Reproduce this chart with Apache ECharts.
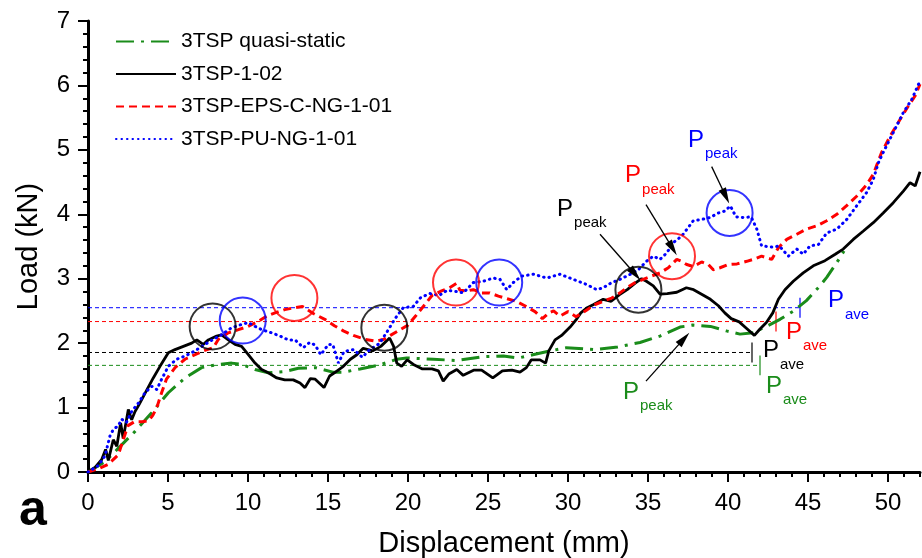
<!DOCTYPE html>
<html>
<head>
<meta charset="utf-8">
<script src="https://cdn.jsdelivr.net/npm/echarts@6/dist/echarts.min.js"></script>
<style>
  html, body { margin: 0; padding: 0; background: #fff; }
  #chart { width: 922px; height: 558px; }
</style>
</head>
<body>
<div id="chart"></div>
<script>
// ---- data (displacement mm, load kN) ----
const qsData = [[0,0],[1.06,0.16],[1.9,0.37],[2.94,0.63],[3.98,0.92],[5.02,1.23],[6.06,1.46],[7.1,1.62],[8.15,1.67],[8.98,1.69],[9.6,1.67],[10.44,1.59],[11.27,1.54],[12.3,1.56],[13.15,1.61],[14.2,1.62],[15.3,1.55],[15.96,1.55],[17.0,1.6],[18.2,1.66],[19.3,1.75],[19.92,1.77],[21.58,1.75],[23.04,1.73],[24.7,1.79],[25.96,1.8],[26.9,1.77],[27.8,1.82],[28.9,1.88],[29.9,1.93],[31.6,1.9],[33.1,1.94],[34.5,2.01],[35.75,2.11],[37.0,2.25],[37.8,2.28],[38.9,2.26],[39.9,2.19],[40.75,2.14],[41.58,2.16],[42.4,2.26],[43.25,2.37],[44.1,2.5],[44.9,2.66],[45.75,2.89],[46.17,3.02],[46.8,3.25],[47.25,3.43]];

const s102Data = [[0,0],[0.44,0.07],[0.85,0.19],[1.1,0.35],[1.27,0.18],[1.58,0.5],[1.8,0.4],[2.04,0.76],[2.2,0.52],[2.52,0.97],[2.73,0.81],[2.94,0.94],[3.2,1.05],[3.67,1.27],[4.08,1.46],[4.5,1.64],[5.02,1.85],[5.44,1.9],[5.96,1.95],[6.48,2.0],[6.8,2.05],[7.2,1.98],[7.52,2.05],[8.04,2.11],[8.35,2.13],[8.77,2.05],[9.19,1.98],[9.6,1.95],[10.02,1.82],[10.44,1.69],[10.85,1.59],[11.27,1.54],[11.8,1.46],[12.3,1.43],[12.83,1.43],[13.25,1.38],[13.56,1.31],[13.9,1.45],[14.2,1.44],[14.75,1.31],[15.1,1.49],[15.4,1.54],[15.96,1.64],[16.4,1.75],[16.8,1.82],[17.2,1.92],[17.8,1.88],[18.3,1.95],[18.85,2.08],[19.1,1.95],[19.3,1.69],[19.6,1.64],[19.95,1.74],[20.4,1.66],[20.9,1.6],[21.5,1.6],[21.9,1.57],[22.2,1.41],[22.55,1.52],[23.05,1.59],[23.45,1.5],[24.1,1.58],[24.6,1.58],[25.3,1.46],[25.9,1.57],[26.5,1.58],[27.0,1.55],[27.4,1.62],[27.7,1.74],[28.25,1.74],[28.6,1.69],[28.8,1.88],[29.19,2.05],[29.6,2.12],[30.13,2.25],[30.5,2.36],[30.8,2.47],[31.2,2.55],[31.6,2.6],[32.2,2.68],[32.7,2.65],[33.2,2.75],[33.7,2.83],[34.2,2.93],[34.6,3.0],[34.9,2.96],[35.33,2.89],[35.75,2.76],[36.2,2.77],[36.8,2.79],[37.4,2.86],[37.85,2.83],[38.35,2.76],[38.9,2.68],[39.4,2.58],[39.8,2.47],[40.2,2.38],[40.7,2.33],[41.2,2.22],[41.65,2.12],[42.0,2.22],[42.4,2.32],[42.8,2.47],[43.15,2.68],[43.56,2.83],[44.08,2.96],[44.7,3.09],[45.33,3.2],[46.06,3.28],[46.7,3.38],[47.2,3.46],[47.83,3.61],[48.46,3.74],[49.08,3.87],[49.7,4.02],[50.33,4.18],[50.96,4.36],[51.38,4.49],[51.7,4.44],[52,4.66]];

const epsData = [[0,0],[0.65,0.05],[1.27,0.12],[1.9,0.27],[2.2,0.5],[2.5,0.72],[2.9,0.78],[3.4,0.78],[3.8,0.8],[4.05,0.88],[4.3,1.0],[4.6,1.23],[4.9,1.44],[5.44,1.62],[6.06,1.75],[6.69,1.82],[7.2,1.88],[7.83,1.93],[8.15,2.06],[8.77,2.16],[9.4,2.21],[10.0,2.26],[10.65,2.34],[11.17,2.42],[11.69,2.47],[12.3,2.52],[12.9,2.55],[13.4,2.57],[14.08,2.46],[14.8,2.37],[15.4,2.27],[15.96,2.19],[16.58,2.12],[17.3,2.06],[18.0,2.03],[18.5,2.06],[18.9,2.12],[19.45,2.2],[20.0,2.28],[20.5,2.43],[21.06,2.6],[21.5,2.74],[22.1,2.81],[22.6,2.86],[23.04,2.93],[23.25,2.82],[23.67,2.81],[24.08,2.83],[24.6,2.78],[25.1,2.78],[25.65,2.73],[26.2,2.69],[26.75,2.65],[27.3,2.58],[27.94,2.49],[28.4,2.38],[28.8,2.47],[29.1,2.5],[29.5,2.42],[30.0,2.49],[30.5,2.41],[30.9,2.47],[31.2,2.52],[31.7,2.6],[32.2,2.65],[32.73,2.7],[33.25,2.78],[33.67,2.86],[34.2,2.94],[34.7,2.99],[35.2,3.04],[35.75,3.09],[36.27,3.17],[36.8,3.3],[37.1,3.27],[37.42,3.22],[37.83,3.19],[38.35,3.26],[38.77,3.22],[39.08,3.14],[39.5,3.17],[40.0,3.22],[40.56,3.23],[41.17,3.27],[41.58,3.3],[42.1,3.35],[42.73,3.3],[43.15,3.48],[43.67,3.61],[44.3,3.69],[44.9,3.77],[45.54,3.82],[46.17,3.9],[46.8,4.0],[47.4,4.13],[48.04,4.28],[48.67,4.46],[49.08,4.62],[49.6,4.96],[50.13,5.21],[50.75,5.47],[51.27,5.68],[51.7,5.84],[52,6.02]];

const puData = [[0,0],[0.65,0.1],[1.06,0.25],[1.375,0.56],[1.58,0.66],[1.9,0.72],[2.1,0.82],[2.4,0.77],[2.73,0.94],[3.15,1.07],[3.56,1.23],[3.98,1.33],[4.3,1.28],[4.6,1.44],[5.02,1.64],[5.54,1.75],[6.06,1.8],[6.69,1.88],[7.31,1.98],[7.83,2.06],[8.35,2.13],[8.98,2.24],[9.6,2.29],[10.02,2.32],[10.44,2.26],[10.85,2.21],[11.48,2.16],[12.0,2.11],[12.52,2.05],[12.94,2.05],[13.46,1.93],[13.85,2.01],[14.2,1.97],[14.55,1.82],[15.02,1.98],[15.3,1.98],[15.65,1.69],[16.0,1.87],[16.6,1.9],[17.15,1.78],[17.6,1.9],[18.2,1.99],[18.7,2.18],[19.19,2.38],[19.7,2.55],[20.33,2.57],[20.8,2.71],[21.375,2.77],[21.95,2.74],[22.45,2.82],[23.05,2.8],[23.46,2.78],[24.08,2.94],[24.7,2.96],[25.33,3.01],[25.75,2.99],[26.17,2.83],[26.58,2.94],[27.1,3.04],[27.83,3.07],[28.67,3.01],[29.5,3.07],[30.33,2.99],[31.17,2.91],[31.8,2.83],[32.2,2.86],[32.73,2.94],[33.25,2.99],[33.9,3.07],[34.4,3.14],[34.9,3.27],[35.33,3.35],[35.75,3.3],[36.17,3.4],[36.58,3.56],[37.1,3.66],[37.5,3.79],[37.83,3.9],[38.35,3.92],[38.875,3.95],[39.4,4.02],[39.8,4.05],[40.15,4.13],[40.5,3.96],[40.96,3.95],[41.45,3.96],[41.8,3.77],[42.1,3.51],[42.8,3.49],[43.2,3.51],[43.77,3.35],[44.3,3.46],[44.7,3.38],[45.125,3.51],[45.65,3.53],[46.17,3.71],[46.8,3.77],[47.42,3.92],[48.04,4.13],[48.67,4.34],[49.08,4.54],[49.4,4.8],[49.7,4.96],[50.33,5.27],[50.96,5.58],[51.48,5.78],[52,6.07]];

// order: quasi-static, 1-02, EPS, PU
const seriesNames = ['3TSP quasi-static', '3TSP-1-02', '3TSP-EPS-C-NG-1-01', '3TSP-PU-NG-1-01'];
const aveLoads = [1.655, 1.855, 2.335, 2.55];
const aveEnds = [42.0, 41.5, 43.0, 44.5];
const aveTickHalf = 0.155;
// peak circles (x, load) per specimen
const peakCircles = [
  [],
  [[7.79, 2.26], [18.52, 2.24], [34.4, 2.83]],
  [[12.9, 2.70], [23.0, 2.94], [36.5, 3.35]],
  [[9.67, 2.35], [25.7, 2.94], [40.1, 4.02]]
];
// arrows: tail point and arrow head point
const arrowFrom = [[34.875, 1.41], [32.0, 3.69], [34.875, 4.15], [38.98, 4.74]];
const arrowTo = [[37.25, 2.07], [34.2, 3.07], [36.54, 3.47], [39.86, 4.28]];
// label anchors (left edge of "P")
const peakLabelAt = [[33.56, 1.24], [29.44, 4.08], [33.69, 4.60], [37.625, 5.15]];
const aveLabelAt = [[42.5, 1.335], [42.31, 1.88], [43.75, 2.17], [46.375, 2.66]];

const xTicksMajor = [0, 5, 10, 15, 20, 25, 30, 35, 40, 45, 50];

const colors = ['#1a8c1a', '#000000', '#ff0000', '#0000ff'];
const curves = [qsData, s102Data, epsData, puData];
const dashes = [[18, 7, 3, 7], 'solid', [8, 5], [0.5, 5]];
const widths = [3, 2.8, 3, 3];
const FONT = "'Liberation Sans', Arial, sans-serif";

const chart = echarts.init(document.getElementById('chart'));

let series = curves.map((d, i) => ({
  name: seriesNames[i],
  type: 'line',
  data: d,
  symbol: 'none',
  showSymbol: false,
  z: 3,
  lineStyle: { color: colors[i], width: widths[i], type: dashes[i], cap: i === 3 ? 'round' : 'butt' },
  itemStyle: { color: colors[i] }
}));

// average load lines and their end ticks
aveLoads.forEach((y, i) => {
  series.push({
    name: 'ave' + i,
    type: 'line',
    data: [[0, y], [aveEnds[i], y]],
    symbol: 'none',
    silent: true,
    z: 2,
    lineStyle: { color: colors[i], width: 1, type: [4, 3] }
  });
  series.push({
    name: 'aveTick' + i,
    type: 'line',
    data: [[aveEnds[i], y - aveTickHalf], [aveEnds[i], y + aveTickHalf]],
    symbol: 'none',
    silent: true,
    z: 2,
    lineStyle: { color: colors[i], width: 1.2, type: 'solid' }
  });
});

// circles round the peaks
series.push({
  name: 'circles',
  type: 'scatter',
  silent: true,
  symbol: 'circle',
  symbolSize: 46,
  z: 4,
  data: peakCircles.flatMap((list, i) => list.map(p => ({
    value: p,
    itemStyle: { color: 'rgba(0,0,0,0)', borderColor: colors[i], borderWidth: 2 }
  })))
});

// arrows to P_peak
series.push({
  name: 'arrows',
  type: 'line',
  data: [],
  silent: true,
  markLine: {
    silent: true,
    animation: false,
    symbol: ['none', 'triangle'],
    symbolSize: [8, 16],
    label: { show: false },
    lineStyle: { color: '#000', width: 1.3, type: 'solid' },
    data: arrowFrom.map((f, k) => [{ coord: f }, { coord: arrowTo[k] }])
  }
});

const option = {
  animation: false,
  backgroundColor: '#fff',
  textStyle: { fontFamily: FONT },
  grid: { left: 88, right: 2, top: 21, bottom: 86, containLabel: false, outerBoundsMode: 'none' },
  legend: {
    data: seriesNames,
    orient: 'vertical',
    left: 110,
    top: 26,
    itemWidth: 60,
    itemHeight: 20,
    itemGap: 11.5,
    itemStyle: { opacity: 0 },
    textStyle: { fontSize: 21, color: '#000', fontFamily: FONT },
    selectedMode: false
  },
  xAxis: [
    {
      type: 'value',
      min: 0,
      max: 52,
      interval: 1,
      name: 'Displacement (mm)',
      nameLocation: 'middle',
      nameGap: 57,
      nameTextStyle: { fontSize: 29, color: '#000', fontFamily: FONT },
      axisLine: { show: true, onZero: false, lineStyle: { color: '#000', width: 3 } },
      axisTick: { show: true, inside: false, length: 5, lineStyle: { color: '#000', width: 2 } },
      axisLabel: {
        fontSize: 24, color: '#000', margin: 19, fontFamily: FONT,
        formatter: v => (v % 5 === 0 ? String(v) : '')
      },
      splitLine: { show: false }
    },
    {
      type: 'value',
      min: 0,
      max: 52,
      interval: 5,
      position: 'bottom',
      axisLine: { show: false },
      axisTick: { show: true, inside: false, length: 10, customValues: xTicksMajor, lineStyle: { color: '#000', width: 2 } },
      axisLabel: { show: false },
      splitLine: { show: false }
    }
  ],
  yAxis: {
    type: 'value',
    min: 0,
    max: 7,
    interval: 1,
    name: 'Load (kN)',
    nameLocation: 'middle',
    nameGap: 45,
    nameTextStyle: { fontSize: 29, color: '#000', fontFamily: FONT },
    axisLine: { show: true, onZero: false, lineStyle: { color: '#000', width: 3 } },
    axisTick: { show: true, inside: false, length: 10, lineStyle: { color: '#000', width: 2 } },
    minorTick: { show: true, splitNumber: 5, length: 5, lineStyle: { color: '#000', width: 2 } },
    axisLabel: { fontSize: 24, color: '#000', margin: 18, fontFamily: FONT },
    splitLine: { show: false },
    minorSplitLine: { show: false }
  },
  series: series
};

chart.setOption(option);

// P_peak / P_ave labels with subscripts, placed from data coordinates
function pLabel(at, sub, color) {
  const p = chart.convertToPixel({ xAxisIndex: 0, yAxisIndex: 0 }, at);
  return [
    {
      type: 'text', x: p[0] - 2, y: p[1], silent: true, z: 100,
      style: { text: 'P', fill: color, fontSize: 24, fontFamily: FONT,
        align: 'left', verticalAlign: 'middle', textAlign: 'left', textVerticalAlign: 'middle' }
    },
    {
      type: 'text', x: p[0] + 15, y: p[1] + 14, silent: true, z: 100,
      style: { text: sub, fill: color, fontSize: 15, fontFamily: FONT,
        align: 'left', verticalAlign: 'middle', textAlign: 'left', textVerticalAlign: 'middle' }
    }
  ];
}

let graphics = [];
for (let i = 0; i < 4; i++) {
  graphics = graphics.concat(pLabel(peakLabelAt[i], 'peak', colors[i]));
  graphics = graphics.concat(pLabel(aveLabelAt[i], 'ave', colors[i]));
}
graphics.push({
  type: 'text', left: 19, top: 486, silent: true,
  style: { text: 'a', fill: '#000', fontSize: 50, fontWeight: 'bold', fontFamily: FONT }
});

chart.setOption({ graphic: graphics });
</script>
</body>
</html>
